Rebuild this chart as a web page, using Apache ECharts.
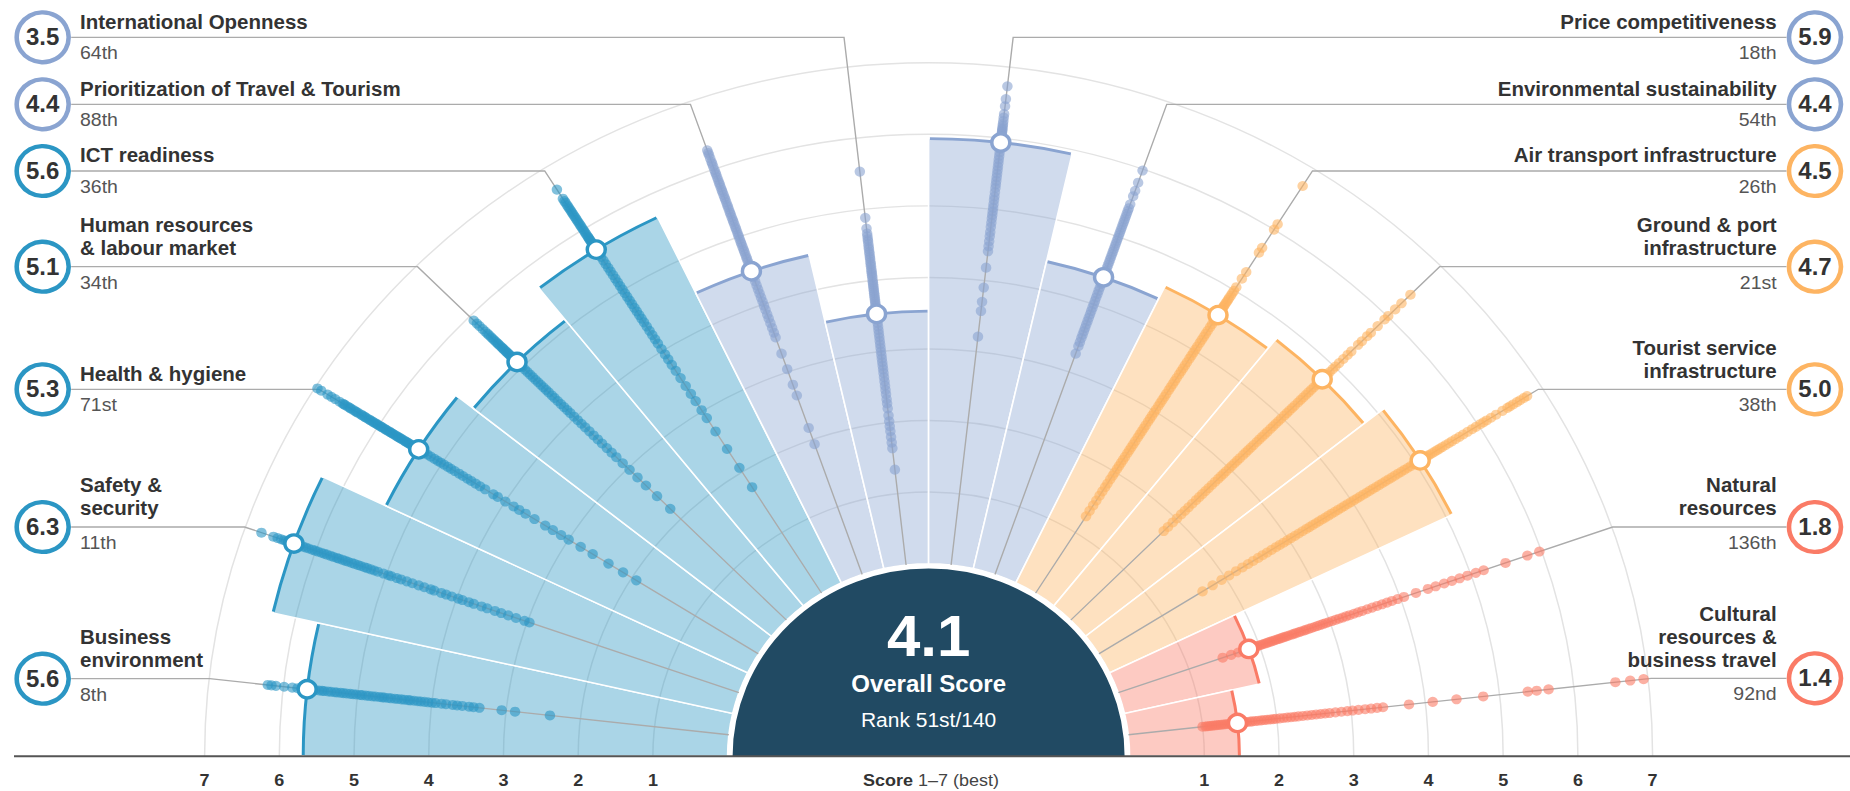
<!DOCTYPE html>
<html><head><meta charset="utf-8">
<script src="https://cdn.jsdelivr.net/npm/echarts@6.0.0/dist/echarts.min.js"></script>
<style>
html,body{margin:0;padding:0;background:#fff;overflow:hidden;width:1850px;height:791px}
#wrap{width:1850px;height:791px;overflow:hidden;position:relative}
#chart{width:1850px;height:826px;transform:scaleY(0.958);transform-origin:0 0}
</style></head><body><div id="wrap"><div id="chart"></div></div>
<script>
// ---------------- DATA ----------------
const categories = ['Business environment','Safety & security','Health & hygiene','Human resources & labour market','ICT readiness','Prioritization of Travel & Tourism','International Openness','Price competitiveness','Environmental sustainability','Air transport infrastructure','Ground & port infrastructure','Tourist service infrastructure','Natural resources','Cultural resources & business travel'];
const labelLines = [['Business','environment'],['Safety &','security'],['Health & hygiene'],['Human resources','& labour market'],['ICT readiness'],['Prioritization of Travel & Tourism'],['International Openness'],['Price competitiveness'],['Environmental sustainability'],['Air transport infrastructure'],['Ground & port','infrastructure'],['Tourist service','infrastructure'],['Natural','resources'],['Cultural','resources &','business travel']];
// bar / marker values
const scores = [5.68, 6.31, 5.37, 5.1, 5.67, 4.49, 3.53, 5.94, 4.4, 4.59, 4.76, 5.08, 1.85, 1.47];
// values printed in the rings
const scoreLabels = ['5.6','6.3','5.3','5.1','5.6','4.4','3.5','5.9','4.4','4.5','4.7','5.0','1.8','1.4'];
const ranks = ['8th','11th','71st','34th','36th','88th','64th','18th','54th','26th','21st','38th','136th','92nd'];
const groups = [0,0,0,0,0,1,1,1,1,2,2,2,3,3];
const groupColors = ['#2b96c4','#8aa4d1','#fdb462','#fa7b66'];
const tickValues = [1,2,3,4,5,6,7];
const overallScore = '4.1';
const overallTitle = 'Overall Score';
const overallRank = 'Rank 51st/140';

// scores of all other countries (one dot each)
const bizDots = [6.21,6.16,6.1,5.99,5.88,5.81,5.75,5.64,5.6,5.57,5.52,5.48,5.45,5.4,5.36,5.31,5.28,5.23,5.19,5.15,5.1,5.06,5.02,4.97,4.94,4.89,4.85,4.8,4.76,4.71,4.67,4.64,4.59,4.55,4.5,4.46,4.41,4.37,4.32,4.29,4.24,4.19,4.15,4.1,4.05,4.0,3.95,3.87,3.81,3.72,3.66,3.59,3.5,3.44,3.36,3.06,2.88,2.41];
const safetyDots = [6.77,6.6,6.54,6.49,6.45,6.42,6.39,6.36,6.34,6.32,6.26,6.23,6.18,6.14,6.1,6.05,6.01,5.97,5.92,5.88,5.84,5.79,5.75,5.7,5.67,5.62,5.58,5.54,5.49,5.45,5.4,5.36,5.31,5.27,5.22,5.17,5.12,5.04,4.97,4.93,4.85,4.79,4.71,4.63,4.54,4.46,4.37,4.32,4.22,4.15,4.07,3.98,3.92,3.83,3.76,3.65,3.57,3.46,3.37,3.27,3.16,3.04,2.97];
const healthDots = [7.04,6.97,6.91,6.81,6.75,6.69,6.62,6.57,6.55,6.53,6.49,6.46,6.44,6.4,6.37,6.35,6.32,6.28,6.26,6.23,6.21,6.18,6.15,6.13,6.1,6.08,6.05,6.03,6.01,5.98,5.96,5.94,5.91,5.89,5.87,5.84,5.82,5.8,5.78,5.76,5.73,5.71,5.69,5.67,5.65,5.63,5.6,5.58,5.56,5.54,5.52,5.5,5.48,5.46,5.44,5.42,5.4,5.38,5.33,5.28,5.23,5.18,5.12,5.07,5.02,4.97,4.91,4.86,4.8,4.73,4.67,4.6,4.54,4.47,4.4,4.32,4.19,4.12,4.0,3.87,3.78,3.68,3.54,3.37,3.25,3.12,3.0,2.81,2.62,2.37,2.14,1.93];
const humanDots = [5.92,5.86,5.81,5.75,5.7,5.66,5.63,5.59,5.56,5.53,5.5,5.47,5.45,5.42,5.39,5.37,5.35,5.32,5.3,5.28,5.26,5.24,5.22,5.2,5.18,5.16,5.14,5.12,5.05,5.0,4.95,4.9,4.85,4.8,4.75,4.7,4.65,4.6,4.55,4.5,4.44,4.39,4.33,4.27,4.21,4.15,4.09,4.02,3.95,3.88,3.81,3.73,3.65,3.57,3.49,3.4,3.31,3.22,3.1,2.97,2.82,2.66,2.45,2.2];
const ictDots = [6.66,6.51,6.47,6.44,6.4,6.37,6.34,6.31,6.28,6.25,6.22,6.19,6.16,6.13,6.1,6.07,6.04,6.01,5.98,5.95,5.92,5.89,5.87,5.85,5.83,5.81,5.79,5.77,5.75,5.73,5.71,5.69,5.61,5.55,5.49,5.43,5.37,5.31,5.25,5.19,5.13,5.07,5.01,4.95,4.89,4.83,4.77,4.71,4.65,4.59,4.53,4.47,4.4,4.33,4.26,4.19,4.12,4.03,3.94,3.86,3.77,3.67,3.55,3.42,3.29,3.17,3.02,2.89,2.67,2.38,2.07,1.75];
const priorDots = [6.28,6.24,6.21,6.16,6.11,6.08,6.04,5.99,5.95,5.92,5.88,5.84,5.8,5.77,5.73,5.69,5.66,5.62,5.58,5.55,5.51,5.47,5.44,5.4,5.36,5.33,5.29,5.25,5.22,5.18,5.14,5.11,5.07,5.03,5.0,4.96,4.92,4.89,4.85,4.81,4.78,4.74,4.7,4.67,4.63,4.59,4.56,4.52,4.45,4.4,4.34,4.28,4.22,4.16,4.1,4.04,3.98,3.92,3.85,3.79,3.72,3.65,3.58,3.51,3.27,3.04,2.81,2.65,2.17,1.93];
const intlDots = [5.53,4.88,4.73,4.66,4.62,4.58,4.55,4.51,4.47,4.44,4.4,4.37,4.33,4.3,4.26,4.23,4.2,4.16,4.13,4.1,4.07,4.04,4.0,3.97,3.94,3.91,3.88,3.85,3.82,3.79,3.76,3.73,3.7,3.67,3.64,3.61,3.58,3.55,3.45,3.4,3.35,3.3,3.25,3.2,3.15,3.1,3.05,3.0,2.95,2.9,2.85,2.8,2.75,2.7,2.64,2.58,2.52,2.46,2.4,2.33,2.27,2.2,2.1,2.02,1.95,1.88,1.8,1.72,1.64,1.34];
const priceDots = [6.73,6.55,6.45,6.34,6.29,6.24,6.2,6.17,6.14,6.12,6.1,6.08,6.06,6.04,6.02,6.0,5.97,5.9,5.85,5.8,5.75,5.7,5.65,5.6,5.55,5.5,5.45,5.4,5.35,5.3,5.24,5.18,5.13,5.07,5.02,4.97,4.92,4.87,4.81,4.75,4.68,4.62,4.55,4.48,4.41,4.18,3.9,3.7,3.57,3.21];
const envDots = [5.98,5.8,5.68,5.6,5.48,5.42,5.38,5.34,5.3,5.26,5.22,5.18,5.14,5.1,5.06,5.02,4.98,4.94,4.9,4.86,4.82,4.78,4.74,4.7,4.66,4.62,4.58,4.54,4.5,4.46,4.43,4.35,4.3,4.25,4.2,4.15,4.1,4.05,4.0,3.95,3.9,3.85,3.8,3.75,3.7,3.65,3.6,3.55,3.5,3.44,3.38,3.27];
const airDots = [6.72,6.09,6.0,5.7,5.62,5.3,5.19,5.05,4.99,4.95,4.91,4.87,4.84,4.81,4.78,4.75,4.73,4.71,4.69,4.67,4.65,4.63,4.61,4.54,4.49,4.44,4.39,4.33,4.28,4.23,4.18,4.13,4.07,4.02,3.97,3.92,3.87,3.81,3.76,3.71,3.66,3.61,3.55,3.5,3.45,3.4,3.35,3.29,3.24,3.19,3.14,3.09,3.03,2.98,2.93,2.88,2.83,2.77,2.72,2.67,2.62,2.57,2.51,2.46,2.41,2.36,2.31,2.25,2.2,2.15,2.1,2.05,1.99,1.94,1.88,1.81,1.75,1.68,1.61,1.53,1.45,1.36,1.27];
const groundDots = [6.43,6.26,6.14,6.01,5.94,5.81,5.68,5.61,5.51,5.44,5.31,5.24,5.16,5.08,5.01,4.96,4.9,4.86,4.82,4.79,4.7,4.65,4.6,4.55,4.5,4.45,4.4,4.35,4.3,4.24,4.19,4.14,4.09,4.04,3.98,3.93,3.88,3.83,3.78,3.72,3.67,3.62,3.57,3.52,3.46,3.41,3.36,3.31,3.26,3.2,3.15,3.1,3.05,3.0,2.94,2.89,2.84,2.79,2.73,2.67,2.61,2.55,2.49,2.43,2.37,2.3,2.23,2.16,2.09,2.01,1.93,1.84,1.76];
const touristDots = [6.77,6.72,6.66,6.61,6.55,6.5,6.46,6.38,6.28,6.2,6.13,6.08,6.03,5.96,5.9,5.83,5.76,5.7,5.64,5.58,5.53,5.48,5.43,5.39,5.35,5.31,5.27,5.23,5.2,5.17,5.14,5.11,5.03,4.98,4.93,4.88,4.83,4.78,4.73,4.68,4.63,4.58,4.53,4.48,4.43,4.38,4.33,4.28,4.23,4.18,4.13,4.08,4.03,3.98,3.93,3.88,3.83,3.78,3.73,3.68,3.63,3.58,3.53,3.48,3.43,3.38,3.33,3.28,3.22,3.16,3.1,3.04,2.98,2.92,2.86,2.8,2.73,2.66,2.59,2.52,2.44,2.36,2.27,2.17,2.06,1.94,1.8,1.64];
const naturalDots = [1.48,1.6,1.7,1.78,1.88,1.91,1.94,1.97,2.0,2.03,2.06,2.09,2.12,2.15,2.18,2.21,2.24,2.27,2.3,2.33,2.36,2.39,2.42,2.46,2.49,2.52,2.56,2.59,2.63,2.66,2.7,2.74,2.78,2.82,2.86,2.9,2.94,2.98,3.03,3.08,3.13,3.18,3.23,3.28,3.34,3.4,3.46,3.53,3.6,3.67,3.74,3.81,3.88,3.96,4.05,4.22,4.39,4.5,4.62,4.73,4.84,4.95,5.07,5.18,5.49,5.8,5.97];
const culturalDots = [1.0,1.04,1.07,1.1,1.13,1.16,1.19,1.22,1.25,1.28,1.31,1.34,1.37,1.4,1.43,1.45,1.5,1.53,1.57,1.6,1.64,1.67,1.71,1.75,1.79,1.83,1.87,1.91,1.95,1.99,2.04,2.09,2.14,2.19,2.24,2.29,2.35,2.41,2.47,2.53,2.59,2.65,2.71,2.79,2.87,2.95,3.02,3.1,3.19,3.27,3.35,3.43,3.78,4.1,4.42,4.78,5.38,5.5,5.66,6.56,6.76,6.94,7.05];
const dotScores = [bizDots,safetyDots,healthDots,humanDots,ictDots,priorDots,intlDots,priceDots,envDots,airDots,groundDots,touristDots,naturalDots,culturalDots];

// ---------------- LAYOUT ----------------
const F = 0.958; // vertical squash of the whole picture
const FONT = '"Liberation Sans", Arial, sans-serif';
const L = {
  cx: 928.6, cy: 756.3 / F, r0: 201, r7: 724,
  lineY: [678.7, 527, 389.3, 266.7, 171, 104.3, 37.3, 37.3, 104.3, 171, 266.7, 389.3, 527, 678.3],
  leftCircleX: 42.7, rightCircleX: 1815, circleR: 26,
  leftTextX: 80, rightTextX: 1776.7,
  leftLineEnd: 71.2, rightLineEnd: 1786.5,
  tickY: 780 / F
};
function rgba(hex, a) {
  const n = parseInt(hex.slice(1), 16);
  return 'rgba(' + (n >> 16) + ',' + ((n >> 8) & 255) + ',' + (n & 255) + ',' + a + ')';
}

const chart = echarts.init(document.getElementById('chart'), null, {renderer: 'svg'});

function barItem(params, api) {
  const v = api.value(0), i = api.value(1);
  const cs = params.coordSys;
  const p = api.coord([v, i]);
  const a = Math.atan2(p[1] - cs.cy, p[0] - cs.cx);
  const r = Math.hypot(p[0] - cs.cx, p[1] - cs.cy);
  const bw = api.size([0, 1], [v, i])[1];
  const s = a - bw / 2, e = a + bw / 2;
  const col = groupColors[groups[i]];
  return {type: 'group', children: [
    {type: 'sector', shape: {cx: cs.cx, cy: cs.cy, r0: cs.r0, r: r, startAngle: s, endAngle: e, clockwise: true},
     style: {fill: rgba(col, 0.4), stroke: '#fff', lineWidth: 1.6}},
    {type: 'arc', shape: {cx: cs.cx, cy: cs.cy, r: r, startAngle: s + 0.002, endAngle: e - 0.002, clockwise: true},
     style: {stroke: col, lineWidth: 3, fill: null}}
  ]};
}
function leaderItem(params, api) {
  const i = api.value(1);
  const p0 = api.coord([0, i]);
  const p1 = api.coord([7, i]);
  const ly = L.lineY[i] / F;
  const t = (ly - p0[1]) / (p1[1] - p0[1]);
  const bx = p0[0] + t * (p1[0] - p0[0]);
  const ex = i < 7 ? L.leftLineEnd : L.rightLineEnd;
  return {type: 'polyline', shape: {points: [[p0[0], p0[1]], [bx, ly], [ex, ly]]},
    style: {stroke: '#ababab', lineWidth: 1.4, fill: null}};
}
function tickItem(params, api) {
  const v = api.value(0);
  const cs = params.coordSys;
  const p = api.coord([v, 0]);
  const r = Math.hypot(p[0] - cs.cx, p[1] - cs.cy);
  const st = (x) => ({text: String(v), x: x, y: L.tickY, fill: '#333', fontSize: 18, fontWeight: 'bold', fontFamily: FONT,
    align: 'center', verticalAlign: 'middle', textAlign: 'center', textVerticalAlign: 'middle'});
  return {type: 'group', children: [
    {type: 'text', style: st(cs.cx - r)},
    {type: 'text', style: st(cs.cx + r)}
  ]};
}

const series = [];
series.push({type: 'custom', coordinateSystem: 'polar', renderItem: barItem, z: 1, silent: true,
  data: scores.map((s, i) => [s, i])});
series.push({type: 'custom', coordinateSystem: 'polar', renderItem: leaderItem, z: 2, silent: true,
  data: scores.map((s, i) => [s, i])});
dotScores.forEach((arr, i) => {
  series.push({type: 'scatter', coordinateSystem: 'polar', symbolSize: 10.5, z: 3, silent: true,
    itemStyle: {color: groupColors[groups[i]], opacity: 0.6},
    data: arr.map(v => [v, i])});
});
series.push({type: 'scatter', coordinateSystem: 'polar', symbolSize: 18, z: 5, silent: true,
  itemStyle: {color: '#fff', borderWidth: 3.5, opacity: 1},
  data: scores.map((s, i) => ({value: [s, i], itemStyle: {borderColor: groupColors[groups[i]]}}))});
series.push({type: 'custom', coordinateSystem: 'polar', renderItem: tickItem, z: 2, silent: true,
  data: tickValues.map(v => [v, 0])});

const graphic = [];
// centre disk
graphic.push({type: 'sector', z: 10, shape: {cx: L.cx, cy: L.cy, r0: 0, r: 198.5, startAngle: Math.PI, endAngle: 2 * Math.PI, clockwise: true},
  style: {fill: '#214a63'}});
graphic.push({type: 'arc', z: 10, shape: {cx: L.cx, cy: L.cy, r: 198.5, startAngle: Math.PI, endAngle: 2 * Math.PI, clockwise: true},
  style: {stroke: '#fff', lineWidth: 5, fill: null}});
const centerText = (t, y, size, weight) => ({type: 'text', z: 11, x: L.cx, y: y / F,
  style: {text: t, fill: '#fff', fontSize: size, fontWeight: weight, fontFamily: FONT, align: 'center', verticalAlign: 'middle', textAlign: 'center', textVerticalAlign: 'middle'}});
graphic.push(centerText(overallScore, 636, 60, 'bold'));
graphic.push(centerText(overallTitle, 684, 24, 'bold'));
graphic.push(centerText(overallRank, 720, 21, 'normal'));
// baseline
graphic.push({type: 'line', z: 12, shape: {x1: 14, y1: L.cy, x2: 1850, y2: L.cy}, style: {stroke: '#555', lineWidth: 2.2}});
// axis title
graphic.push({type: 'text', z: 12, x: 931, y: L.tickY,
  style: {text: '{b|Score} {n|1–7 (best)}', fill: '#333', fontSize: 18, fontFamily: FONT, align: 'center', verticalAlign: 'middle', textAlign: 'center', textVerticalAlign: 'middle',
    rich: {b: {fontWeight: 'bold', fontSize: 18, fontFamily: FONT, fill: '#333'}, n: {fontWeight: 'normal', fontSize: 18, fontFamily: FONT, fill: '#444'}}}});
// labels
categories.forEach((c, i) => {
  const left = i < 7;
  const ly = L.lineY[i];
  const col = groupColors[groups[i]];
  const ccx = left ? L.leftCircleX : L.rightCircleX;
  const tx = left ? L.leftTextX : L.rightTextX;
  const al = left ? 'left' : 'right';
  graphic.push({type: 'circle', z: 20, shape: {cx: ccx, cy: ly / F, r: L.circleR}, style: {fill: '#fff', stroke: col, lineWidth: 4.6}});
  graphic.push({type: 'text', z: 21, x: ccx, y: ly / F,
    style: {text: scoreLabels[i], fill: '#333', fontSize: 24, fontWeight: 'bold', fontFamily: FONT, align: 'center', verticalAlign: 'middle', textAlign: 'center', textVerticalAlign: 'middle'}});
  const lines = labelLines[i];
  const n = lines.length;
  lines.forEach((t, k) => {
    const off = n === 1 ? -15.5 : -18.5 - 23 * (n - 1 - k);
    graphic.push({type: 'text', z: 21, x: tx, y: (ly + off) / F,
      style: {text: t, fill: '#333', fontSize: 20.5, fontWeight: 'bold', fontFamily: FONT, align: al, verticalAlign: 'middle', textAlign: al, textVerticalAlign: 'middle'}});
  });
  graphic.push({type: 'text', z: 21, x: tx, y: (ly + 15.7) / F,
    style: {text: ranks[i], fill: '#555', fontSize: 19.5, fontFamily: FONT, align: al, verticalAlign: 'middle', textAlign: al, textVerticalAlign: 'middle'}});
});

chart.setOption({
  animation: false,
  backgroundColor: '#fff',
  polar: {center: [L.cx, L.cy], radius: [L.r0, L.r7]},
  angleAxis: {type: 'category', data: categories, startAngle: 180, endAngle: 0, clockwise: true, boundaryGap: true,
    axisLine: {show: false}, axisTick: {show: false}, axisLabel: {show: false}, splitLine: {show: false}},
  radiusAxis: {type: 'value', min: 0, max: 7, interval: 1,
    axisLine: {show: false}, axisTick: {show: false}, axisLabel: {show: false},
    splitLine: {show: true, lineStyle: {color: '#e3e3e3', width: 1.5}}},
  series: series,
  graphic: graphic
});
</script>
</body></html>
